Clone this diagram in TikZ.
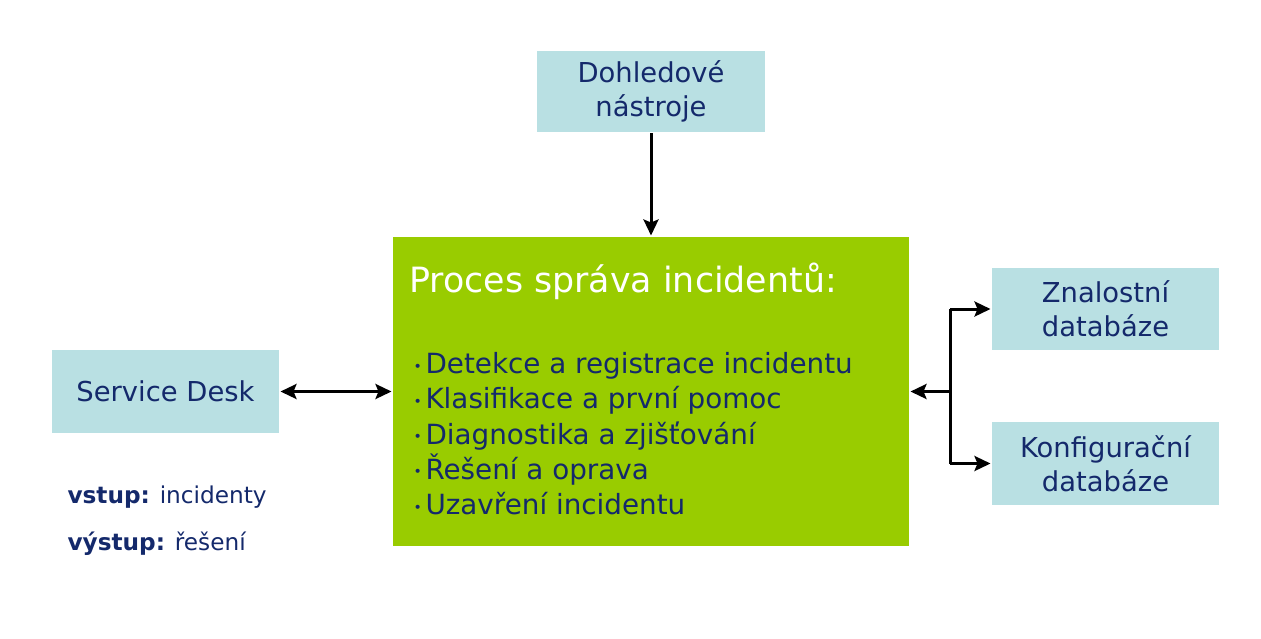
\documentclass[tikz,border=0pt]{standalone}
\usepackage{fontspec}
\setmainfont{DejaVu Sans}
\usetikzlibrary{arrows.meta,positioning}
\usepackage{color}

\definecolor{boxcyan}{HTML}{B9E0E3}
\definecolor{procgreen}{HTML}{99CC00}
\definecolor{textnavy}{HTML}{14296B}

\newcommand{\procdot}{\makebox[6pt][l]{\raisebox{1.2pt}{\fontsize{7}{7}\selectfont •}}}

\begin{document}
\begin{tikzpicture}[x=0.5pt,y=-0.5pt,->,>={Stealth[length=8pt,width=7.5pt,inset=1.5pt]},line width=1.5pt,
  source/.style={fill=boxcyan,text=textnavy,align=center,inner sep=0pt,
    minimum width=113.5pt,font=\fontsize{13.7}{17}\selectfont},
  proc/.style={fill=procgreen,inner sep=0pt,minimum width=258pt,minimum height=154.5pt}]

		\useasboundingbox (0,0) rectangle (1261,638);

		\node[source, minimum width=114pt, minimum height=40.5pt] (tools) at (651,91) {Dohledové\\nástroje};
		\node[proc] (proc) at (651,391.5) {};
		\node[source, minimum height=41.5pt] (desk) at (165.5,391.5) {Service Desk};
		\node[source, minimum height=41pt] (knowdb) at (1105.5,309) {Znalostní\\databáze};
		\node[source, minimum height=41.5pt] (confdb) at (1105.5,463.5) {Konfigurační\\databáze};
		\coordinate (split) at (950,391.5);

		\node[anchor=base west, inner sep=0pt, text=white, font=\fontsize{17.4}{20}\selectfont] (title) at (408,292) {Proces správa incidentů:};
		\node[anchor=north west, inner sep=0pt, text=textnavy, align=left, font=\fontsize{13.9}{17.6}\selectfont] (steps) at (412,351)
		  {\procdot Detekce a registrace incidentu\\
		   \procdot Klasifikace a první pomoc\\
		   \procdot Diagnostika a zjišťování\\
		   \procdot Řešení a oprava\\
		   \procdot Uzavření incidentu};

		\node[anchor=base west, inner sep=0pt, text=textnavy, font=\fontsize{11.6}{14}\selectfont] (input) at (66,503) {\textbf{vstup:} incidenty};
		\node[anchor=base west, inner sep=0pt, text=textnavy, font=\fontsize{11.6}{14}\selectfont] (output) at (66,550) {\textbf{výstup:} řešení};

		\draw (tools) -- (proc);
		\draw[<->] (desk) -- (proc);
		\draw (split) -- (proc);
		\draw[-] (split) -- (split |- knowdb);
		\draw (split |- knowdb) -- (knowdb);
		\draw[-] (split) -- (split |- confdb);
		\draw (split |- confdb) -- (confdb);
\end{tikzpicture}
\end{document}
